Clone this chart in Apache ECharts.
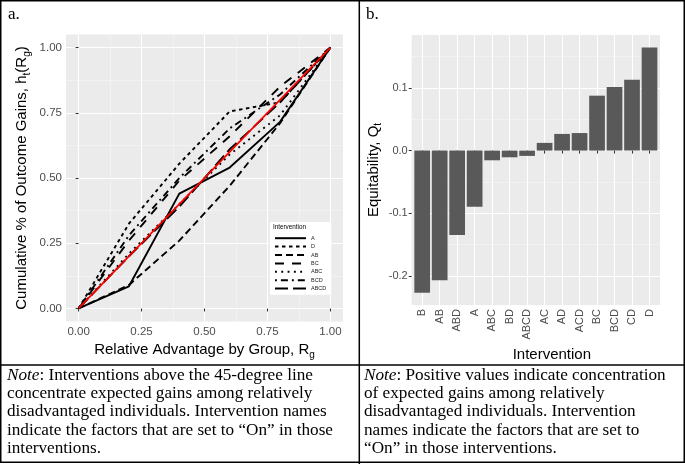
<!DOCTYPE html>
<html>
<head>
<meta charset="utf-8">
<script src="https://cdn.jsdelivr.net/npm/echarts@6/dist/echarts.min.js"></script>
<style>
html,body{margin:0;padding:0;background:#fff;}
#c{width:685px;height:464px;}
</style>
</head>
<body>
<div id="c"></div>
<script>
// ---- Panel a: cumulative gain curves ----
const groupX = [0, 0.2, 0.4, 0.6, 0.8, 1];
const curveNames = ['A', 'D', 'AB', 'BC', 'ABC', 'BCD', 'ABCD'];
const curveA    = [0, 0.085, 0.44, 0.54, 0.715, 1];
const curveD    = [0, 0.325, 0.555, 0.755, 0.79, 1];
const curveAB   = [0, 0.09, 0.26, 0.47, 0.71, 1];
const curveBC   = [0, 0.26, 0.49, 0.66, 0.85, 1];
const curveABC  = [0, 0.21, 0.40, 0.59, 0.74, 1];
const curveBCD  = [0, 0.28, 0.50, 0.69, 0.82, 1];
const curveABCD = [0, 0.20, 0.39, 0.61, 0.79, 1];
const diagX = [0, 1];
const diagY = [0, 1];
const ticksA = [0, 0.25, 0.5, 0.75, 1];
const minorA = [0.125, 0.375, 0.625, 0.875];

// ---- Panel b: equitability bars ----
const barCats = ['B', 'AB', 'ABD', 'A', 'ABC', 'BD', 'ABCD', 'AC', 'AD', 'ACD', 'BC', 'BCD', 'CD', 'D'];
const barVals = [-0.227, -0.207, -0.135, -0.0898, -0.0155, -0.0107, -0.0085, 0.0123, 0.0266, 0.028, 0.0877, 0.1016, 0.1132, 0.1648];
const ticksB = [-0.2, -0.1, 0.0, 0.1];
const minorB = [-0.15, -0.05, 0.05, 0.15];

// ---- Notes ----
const noteLeft = [
  '{i|Note}: Interventions above the 45-degree line',
  'concentrate expected gains among relatively',
  'disadvantaged individuals. Intervention names',
  'indicate the factors that are set to \u201cOn\u201d in those',
  'interventions.'
];
const noteRight = [
  '{i|Note}: Positive values indicate concentration',
  'of expected gains among relatively',
  'disadvantaged individuals. Intervention',
  'names indicate the factors that are set to',
  '\u201cOn\u201d in those interventions.'
];

const curves = [curveA, curveD, curveAB, curveBC, curveABC, curveBCD, curveABCD];
const dashes = ['solid', [3.5, 3.5], [7, 4], [9, 8], [1.9, 4.4], [1.9, 4, 7, 4], [13, 5]];

const SANS = 'Liberation Sans, Arial, sans-serif';
const SERIF = 'Liberation Serif, Times New Roman, serif';
const tickColor = '#4D4D4D';
const gridBg = '#EBEBEB';
const noteSize = 17.2;

function zip(xs, ys) { return xs.map((x, i) => [x, ys[i]]); }

const lineSeries = curves.map((ys, k) => ({
  name: curveNames[k],
  type: 'line',
  xAxisIndex: 0, yAxisIndex: 0,
  data: zip(groupX, ys),
  symbol: 'none',
  silent: true,
  animation: false,
  lineStyle: { color: '#000', width: 1.9, type: dashes[k], cap: 'butt' },
  itemStyle: { color: 'transparent', borderWidth: 0 },
  z: 3
}));
lineSeries.push({
  name: 'diag', type: 'line', xAxisIndex: 0, yAxisIndex: 0,
  data: zip(diagX, diagY), symbol: 'none', animation: false,
  lineStyle: { color: '#FF0000', width: 1.7 }, z: 5
});

const subRich = {
  n: { fontSize: 15, fontFamily: SANS, color: '#000', lineHeight: 20, verticalAlign: 'middle' },
  s: { fontSize: 10, fontFamily: SANS, color: '#000', lineHeight: 10, verticalAlign: 'bottom' }
};

function valAxis(grid, min, max, ticks, fmt, extra) {
  return Object.assign({
    type: 'value', gridIndex: grid, min: min, max: max,
    axisLine: { show: false },
    axisTick: { show: true, length: 3, lineStyle: { color: '#333', width: 1 }, customValues: ticks },
    axisLabel: { show: true, customValues: ticks, formatter: fmt, color: tickColor, fontSize: 11.5, fontFamily: SANS, margin: 4 },
    splitLine: { show: true, lineStyle: { color: '#FFFFFF', width: 1.1 } },
    minorTick: { show: false }, minorSplitLine: { show: false }
  }, extra || {});
}
function minorAxis(grid, min, max, ticks, pos) {
  return {
    type: 'value', gridIndex: grid, min: min, max: max, position: pos,
    axisLine: { show: false },
    axisTick: { show: false, customValues: ticks },
    axisLabel: { show: false, customValues: ticks },
    splitLine: { show: true, lineStyle: { color: '#F7F7F7', width: 0.6 } }
  };
}

const option = {
  animation: false,
  backgroundColor: '#fff',
  grid: [
    { left: 66, top: 34.5, width: 277, height: 287, show: true, backgroundColor: gridBg, borderWidth: 0 },
    { left: 411.7, top: 35, width: 248.3, height: 270, show: true, backgroundColor: gridBg, borderWidth: 0 }
  ],
  xAxis: [
    valAxis(0, -0.05, 1.05, ticksA, v => v.toFixed(2), {
      name: '{n|Relative Advantage by Group, R}{s|g}', nameLocation: 'middle', nameGap: 14,
      nameTextStyle: { rich: subRich, verticalAlign: 'top' }
    }),
    minorAxis(0, -0.05, 1.05, minorA, 'top'),
    valAxis(1, 0.4, 14.6, barCats.map((c, i) => i + 1), v => barCats[Math.round(v) - 1], {
      axisLabel: { show: true, customValues: barCats.map((c, i) => i + 1), formatter: v => barCats[Math.round(v) - 1],
        rotate: 90, color: tickColor, fontSize: 11, fontFamily: SANS, margin: 4 },
      name: 'Intervention', nameLocation: 'middle', nameGap: 40,
      nameTextStyle: { fontSize: 15, fontFamily: SANS, color: '#000', padding: [0, 0, 0, 32], verticalAlign: 'top' }
    })
  ],
  yAxis: [
    valAxis(0, -0.05, 1.05, ticksA, v => v.toFixed(2), {
      name: '{n|Cumulative % of Outcome Gains, h}{s|t}{n|(R}{s|g}{n|)}', nameLocation: 'middle', nameGap: 34,
      nameTextStyle: { rich: subRich }
    }),
    minorAxis(0, -0.05, 1.05, minorA, 'right'),
    valAxis(1, -0.2466, 0.1846, ticksB, v => v.toFixed(1), {
      axisLabel: { show: true, customValues: ticksB, formatter: v => v.toFixed(1), color: tickColor, fontSize: 11, fontFamily: SANS, margin: 4 },
      name: '{n|Equitability, Q}{s|t}', nameLocation: 'middle', nameGap: 28,
      nameTextStyle: { rich: subRich }
    }),
    minorAxis(1, -0.2466, 0.1846, minorB, 'right')
  ],
  legend: {
    data: curveNames,
    orient: 'vertical',
    left: 270, top: 222,
    padding: [13, 5, 3, 4],
    itemWidth: 31, itemHeight: 8, itemGap: 2,
    backgroundColor: '#FFFFFF',
    itemStyle: { color: 'transparent', borderWidth: 0, opacity: 0 },
    textStyle: { fontSize: 5.5, fontFamily: SANS, color: '#1A1A1A' },
    selectedMode: false
  },
  title: [
    { text: 'Intervention', left: 273, top: 224, padding: 0,
      textStyle: { fontSize: 6.3, fontWeight: 'normal', fontFamily: SANS, color: '#000' } }
  ],
  series: lineSeries.concat([{
    name: 'Q', type: 'bar', xAxisIndex: 2, yAxisIndex: 2,
    data: zip(barCats.map((c, i) => i + 1), barVals),
    barWidth: 15.7,
    itemStyle: { color: '#595959' },
    animation: false
  }]),
  graphic: [
    { type: 'text', x: 8, y: 6, style: { text: 'a.', fontSize: 17, fontFamily: SERIF, fill: '#000' } },
    { type: 'text', x: 366, y: 6, style: { text: 'b.', fontSize: 17, fontFamily: SERIF, fill: '#000' } },
    { type: 'text', x: 7, y: 366, style: { text: noteLeft.join('\n'), fontSize: noteSize, fontFamily: SERIF, lineHeight: 18.3, fill: '#000',
        rich: { i: { fontStyle: 'italic', fontSize: noteSize, fontFamily: SERIF, lineHeight: 18.3 } } } },
    { type: 'text', x: 364, y: 366, style: { text: noteRight.join('\n'), fontSize: noteSize, fontFamily: SERIF, lineHeight: 18.3, fill: '#000',
        rich: { i: { fontStyle: 'italic', fontSize: noteSize, fontFamily: SERIF, lineHeight: 18.3 } } } },
    { type: 'rect', shape: { x: 0.75, y: 0.75, width: 683.5, height: 461.5 }, style: { fill: 'none', stroke: '#000', lineWidth: 1.5 }, z: 100 },
    { type: 'line', shape: { x1: 359.3, y1: 0, x2: 359.3, y2: 464 }, style: { stroke: '#000', lineWidth: 1.5 }, z: 100 },
    { type: 'line', shape: { x1: 0, y1: 365, x2: 685, y2: 365 }, style: { stroke: '#000', lineWidth: 1.5 }, z: 100 }
  ]
};

const chart = echarts.init(document.getElementById('c'), null, { renderer: 'canvas' });
chart.setOption(option);
</script>
</body>
</html>
